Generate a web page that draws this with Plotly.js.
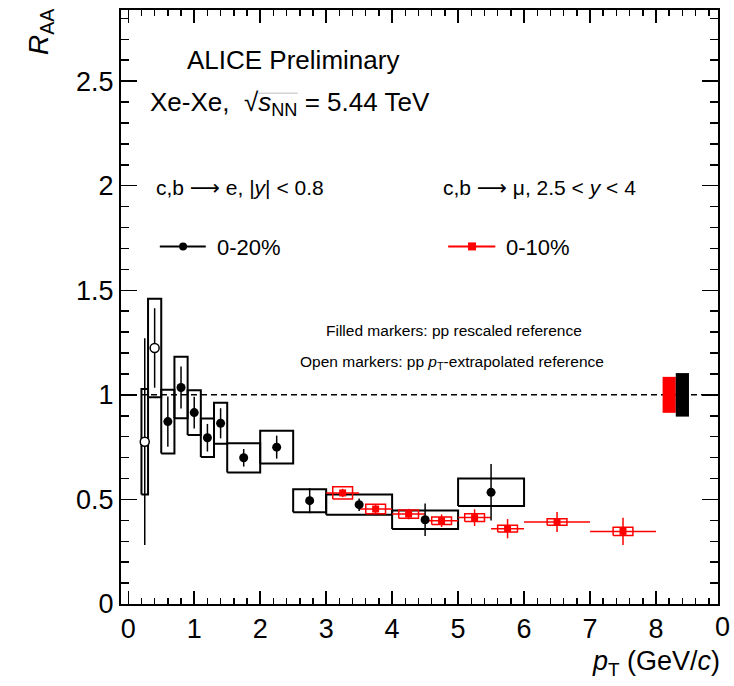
<!DOCTYPE html>
<html>
<head>
<meta charset="utf-8">
<script src="https://cdn.plot.ly/plotly-3.0.1.min.js"></script>
<style>
  html, body { margin: 0; padding: 0; background: #fff; }
  #chart { width: 734px; height: 686px; }
</style>
</head>
<body>
<div id="chart"></div>
<script>
// Heavy-flavour decay electrons, |y| < 0.8, Xe-Xe 0-20%
const eleX      = [0.25, 0.4, 0.6, 0.8, 1.0, 1.2, 1.4, 1.75, 2.25, 2.75, 3.5, 4.5, 5.5];
const eleBinHW  = [0.05, 0.1, 0.1, 0.1, 0.1, 0.1, 0.1, 0.25, 0.25, 0.25, 0.5, 0.5, 0.5];
const eleRaa    = [0.776, 1.224, 0.872, 1.035, 0.915, 0.795, 0.864, 0.699, 0.750, 0.494, 0.475, 0.403, 0.534];
const eleStat   = [0.494, 0.190, 0.120, 0.100, 0.076, 0.066, 0.072, 0.042, 0.055, 0.060, 0.030, 0.078, 0.135];
const eleSys    = [0.252, 0.235, 0.152, 0.147, 0.107, 0.092, 0.098, 0.070, 0.078, 0.055, 0.048, 0.044, 0.066];
// true = pT-extrapolated pp reference (open marker)
const eleOpen   = [true, true, false, false, false, false, false, false, false, false, false, false, false];

// Heavy-flavour decay muons, 2.5 < y < 4, Xe-Xe 0-10%
const muX       = [3.25, 3.75, 4.25, 4.75, 5.25, 5.75, 6.5, 7.5];
const muBinHW   = [0.25, 0.25, 0.25, 0.25, 0.25, 0.25, 0.5, 0.5];
const muRaa     = [0.531, 0.454, 0.430, 0.398, 0.413, 0.360, 0.392, 0.347];
const muStat    = [0.020, 0.020, 0.025, 0.030, 0.040, 0.046, 0.048, 0.065];
const muSys     = [0.029, 0.023, 0.020, 0.018, 0.018, 0.016, 0.016, 0.020];

// Normalisation uncertainties (drawn at R_AA = 1)
const normMu  = 0.086;
const normEle = 0.104;
const normMuX = 8.2;
const normEleX = 8.4;

const xTicks = [0, 1, 2, 3, 4, 5, 6, 7, 8];
const yTicks = [0, 0.5, 1, 1.5, 2, 2.5];
const yTickText = ["0", "0.5", "1", "1.5", "2", "2.5"];

const FONT = "Liberation Sans, Arial, Helvetica, sans-serif";
const ARROW = '<span style="font-family:DejaVu Sans">⟶</span>';

// Closed rectangle outlines, separated by nulls, for systematic boxes
function boxes(xc, hw, yc, hh) {
  const bx = [], by = [];
  for (let i = 0; i < xc.length; i++) {
    const x0 = xc[i] - hw[i], x1 = xc[i] + hw[i];
    const y0 = yc[i] - hh[i], y1 = yc[i] + hh[i];
    bx.push(x0, x1, x1, x0, x0, null);
    by.push(y0, y0, y1, y1, y0, null);
  }
  return { x: bx, y: by };
}

function pick(arr, mask, want) {
  return arr.filter((_, i) => mask[i] === want);
}

const eleBox = boxes(eleX, eleBinHW, eleRaa, eleSys);
const muBox  = boxes(muX, muX.map(() => 0.15), muRaa, muSys);
const normBoxes = boxes([normMuX, normEleX], [0.1, 0.1], [1, 1], [normMu, normEle]);

const traces = [
  // systematic boxes, electrons
  { x: eleBox.x, y: eleBox.y, mode: "lines", type: "scatter",
    line: { color: "#000", width: 2 }, hoverinfo: "skip", showlegend: false },
  // systematic boxes, muons
  { x: muBox.x, y: muBox.y, mode: "lines", type: "scatter",
    line: { color: "#ff0000", width: 1.5 }, hoverinfo: "skip", showlegend: false },
  // normalisation boxes
  { x: normBoxes.x.slice(0, 6), y: normBoxes.y.slice(0, 6), mode: "lines", type: "scatter",
    fill: "toself", fillcolor: "#ff0000", line: { color: "#ff0000", width: 0 },
    hoverinfo: "skip", showlegend: false },
  { x: normBoxes.x.slice(6), y: normBoxes.y.slice(6), mode: "lines", type: "scatter",
    fill: "toself", fillcolor: "#000", line: { color: "#000", width: 0 },
    hoverinfo: "skip", showlegend: false },
  // muons
  { x: muX, y: muRaa, mode: "markers", type: "scatter", name: "0-10%",
    marker: { symbol: "square", size: 7, color: "#ff0000" },
    error_y: { type: "data", array: muStat, width: 0, thickness: 1.5, color: "#ff0000" },
    error_x: { type: "data", array: muBinHW, width: 0, thickness: 1.5, color: "#ff0000" },
    showlegend: false },
  // electrons, rescaled pp reference
  { x: pick(eleX, eleOpen, false), y: pick(eleRaa, eleOpen, false), mode: "markers", type: "scatter",
    name: "0-20%",
    marker: { symbol: "circle", size: 9, color: "#000" },
    error_y: { type: "data", array: pick(eleStat, eleOpen, false), width: 0, thickness: 1.5, color: "#000" },
    showlegend: false },
  // electrons, pT-extrapolated pp reference
  { x: pick(eleX, eleOpen, true), y: pick(eleRaa, eleOpen, true), mode: "markers", type: "scatter",
    name: "0-20% (extrapolated ref.)",
    marker: { symbol: "circle", size: 9, color: "#fff", line: { color: "#000", width: 1.5 } },
    error_y: { type: "data", array: pick(eleStat, eleOpen, true), width: 0, thickness: 1.5, color: "#000" },
    showlegend: false }
];

// text placed in paper coordinates of the plot area
function ann(text, x, y, size, xanchor, extra) {
  return Object.assign({
    text: text, x: x, y: y, xref: "paper", yref: "paper",
    xanchor: xanchor || "left", yanchor: "middle", showarrow: false,
    font: { family: FONT, size: size, color: "#000" }
  }, extra || {});
}

const annotations = [
  ann("ALICE Preliminary", 0.108, 0.916, 26),
  ann("Xe-Xe,  √<i>s</i><sub>NN</sub> = 5.44 TeV", 0.046, 0.843, 26),
  ann("c,b " + ARROW + " e, |<i>y</i>| &lt; 0.8", 0.056, 0.700, 21),
  ann("c,b " + ARROW + " μ, 2.5 &lt; <i>y</i> &lt; 4", 0.536, 0.700, 21),
  ann("0-20%", 0.158, 0.601, 22),
  ann("0-10%", 0.641, 0.601, 22),
  ann("Filled markers: pp rescaled reference", 0.558, 0.460, 15.5, "center"),
  ann("Open markers: pp <i>p</i><sub>T</sub>-extrapolated reference", 0.554, 0.407, 15.5, "center"),
  // axis titles
  ann("<i>R</i><sub>AA</sub>", -0.134, 1.006, 28, "center", { yanchor: "top", textangle: -90 }),
  ann("<i>p</i><sub>T</sub> (GeV/<i>c</i>)", 1.007, -0.1, 27, "right"),
  // label of the tick at the right edge of the frame
  ann("0", 1.007, -0.038, 27, "center")
];

const shapes = [
  // R_AA = 1 reference line
  { type: "line", xref: "paper", yref: "y", x0: 0, x1: 1, y0: 1, y1: 1, layer: "below",
    line: { color: "#000", width: 1.5, dash: "6px,4px" } },
  // legend glyphs
  { type: "line", xref: "paper", yref: "paper", x0: 0.065, x1: 0.142, y0: 0.602, y1: 0.602,
    line: { color: "#000", width: 2 } },
  { type: "circle", xref: "paper", yref: "paper", xsizemode: "pixel", ysizemode: "pixel",
    xanchor: 0.104, yanchor: 0.602, x0: -4, x1: 4, y0: -4, y1: 4,
    fillcolor: "#000", line: { color: "#000", width: 0 } },
  { type: "line", xref: "paper", yref: "paper", x0: 0.548, x1: 0.627, y0: 0.602, y1: 0.602,
    line: { color: "#ff0000", width: 2 } },
  { type: "rect", xref: "paper", yref: "paper", xsizemode: "pixel", ysizemode: "pixel",
    xanchor: 0.588, yanchor: 0.602, x0: -4, x1: 4, y0: -4, y1: 4,
    fillcolor: "#ff0000", line: { color: "#ff0000", width: 0 } },
  // overline of the square root
  { type: "line", xref: "paper", yref: "paper", x0: 0.230, x1: 0.296, y0: 0.860, y1: 0.860,
    line: { color: "#bbb", width: 1 } }
];

const axisCommon = {
  showgrid: false, zeroline: false, showline: true, linecolor: "#000", linewidth: 2,
  mirror: "allticks", ticks: "inside", tickcolor: "#000", tickwidth: 1.5,
  tickfont: { family: FONT, size: 27, color: "#000" }
};

const layout = {
  width: 734, height: 686,
  margin: { l: 121, r: 16, t: 10, b: 82, pad: 0 },
  paper_bgcolor: "#fff", plot_bgcolor: "#fff",
  showlegend: false,
  xaxis: Object.assign({}, axisCommon, {
    range: [-0.11, 8.94], tickmode: "array", tickvals: xTicks, ticklen: 13,
    minor: { dtick: 0.2, tick0: 0, ticks: "inside", ticklen: 6, tickcolor: "#000", tickwidth: 1.5 }
  }),
  yaxis: Object.assign({}, axisCommon, {
    range: [0, 2.84], tickmode: "array", tickvals: yTicks, ticktext: yTickText, ticklen: 16,
    minor: { dtick: 0.1, tick0: 0, ticks: "inside", ticklen: 8, tickcolor: "#000", tickwidth: 1.5 }
  }),
  annotations: annotations,
  shapes: shapes
};

Plotly.newPlot("chart", traces, layout, { displayModeBar: false, staticPlot: true });
</script>
</body>
</html>
